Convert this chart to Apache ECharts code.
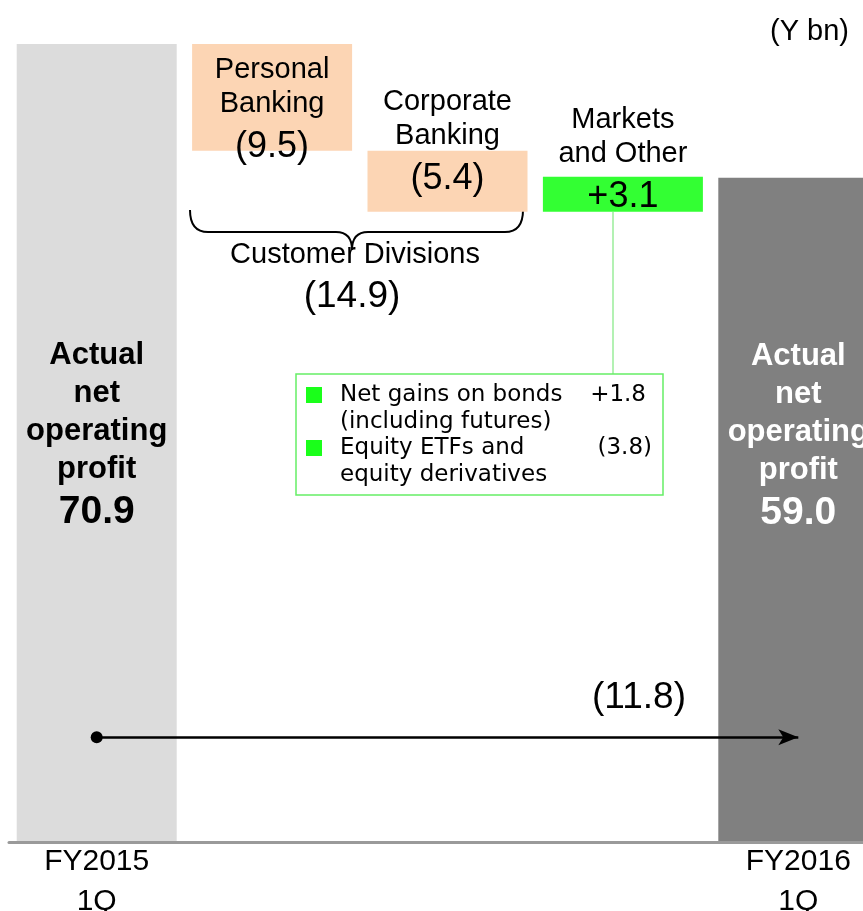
<!DOCTYPE html>
<html>
<head>
<meta charset="utf-8">
<title>Actual net operating profit FY2015 1Q to FY2016 1Q</title>
<script src="https://cdn.jsdelivr.net/npm/echarts@6/dist/echarts.min.js"></script>
<style>
  html, body { margin: 0; padding: 0; background: #fff; }
  #chart { width: 863px; height: 911px; }
</style>
</head>
<body>
<div id="chart"></div>
<script>
// chart data (Y bn)
const categories = ['FY2015\n1Q', 'Personal Banking', 'Corporate Banking', 'Markets and Other', 'FY2016\n1Q'];
const barKinds = ['total', 'change', 'change', 'change', 'total'];
const barValues = [70.9, -9.5, -5.4, 3.1, 59.0];
const valueTexts = ['70.9', '(9.5)', '(5.4)', '+3.1', '59.0'];
const barTitles = ['Actual\nnet\noperating\nprofit', 'Personal\nBanking', 'Corporate\nBanking', 'Markets\nand Other', 'Actual\nnet\noperating\nprofit'];
const customerDivisionsName = 'Customer Divisions';
const customerDivisionsTotal = '(14.9)';
const marketsBreakdownNames = ['Net gains on bonds\n(including futures)', 'Equity ETFs and\nequity derivatives'];
const marketsBreakdownValues = ['+1.8', '(3.8)'];
const overallChangeText = '(11.8)';
const overallArrowLevel = 9.3;
const unitText = '(Y bn)';

// styles
const FONT_NAME = 'Liberation Sans';
const FONT = '"Liberation Sans", Arial, sans-serif';
const BOX_FONT = '"DejaVu Sans", sans-serif';
const labelTop = [293, 9, -66, -74, 160]; // label offset from bar top, px

const barColor = (i) => {
  if (i === 0) return '#dcdcdc';
  if (i === barValues.length - 1) return '#808080';
  return barValues[i] < 0 ? '#fcd5b4' : '#33ff33';
};

// waterfall: invisible base + visible step
let running = 0;
const baseData = [];
const stepData = [];
barValues.forEach((v, i) => {
  if (barKinds[i] === 'total') {
    baseData.push(0);
    stepData.push(v);
    running = v;
  } else if (v < 0) {
    running += v;
    baseData.push(+running.toFixed(1));
    stepData.push(-v);
  } else {
    baseData.push(+running.toFixed(1));
    stepData.push(v);
    running += v;
  }
});

const totalRich = (color) => ({
  n: { fontFamily: FONT_NAME, fontSize: 31, fontWeight: 'bold', lineHeight: 38, color },
  v: { fontFamily: FONT_NAME, fontSize: 39, fontWeight: 'bold', lineHeight: 46, color }
});
const changeRich = {
  n: { fontFamily: FONT_NAME, fontSize: 29, lineHeight: 34, color: '#000' },
  v: { fontFamily: FONT_NAME, fontSize: 36, lineHeight: 52, color: '#000' }
};

const labelText = (i) =>
  barTitles[i].split('\n').map(s => `{n|${s}}`).join('\n') + `\n{v|${valueTexts[i]}}`;

// brace pieces
const braceStyle = { fill: 'none', stroke: '#000', lineWidth: 2 };
const brace = [
  { type: 'bezierCurve', shape: { x1: 190, y1: 210, cpx1: 190, cpy1: 232, x2: 208, y2: 232 }, style: braceStyle },
  { type: 'line', shape: { x1: 208, y1: 232, x2: 336, y2: 232 }, style: braceStyle },
  { type: 'bezierCurve', shape: { x1: 336, y1: 232, cpx1: 352, cpy1: 232, x2: 352, y2: 250 }, style: braceStyle },
  { type: 'bezierCurve', shape: { x1: 352, y1: 250, cpx1: 352, cpy1: 232, x2: 368, y2: 232 }, style: braceStyle },
  { type: 'line', shape: { x1: 368, y1: 232, x2: 505, y2: 232 }, style: braceStyle },
  { type: 'bezierCurve', shape: { x1: 505, y1: 232, cpx1: 523, cpy1: 232, x2: 523, y2: 210 }, style: braceStyle }
];

const chart = echarts.init(document.getElementById('chart'));

const option = {
  animation: false,
  grid: { left: 9, top: 0, width: 877, height: 842, containLabel: false, outerBoundsMode: 'none' },
  xAxis: {
    type: 'category',
    data: categories,
    z: 10,
    axisTick: { show: false },
    axisLine: { lineStyle: { color: '#9a9a9a', width: 3 } },
    axisLabel: {
      interval: (i) => barKinds[i] === 'total',
      margin: 0,
      color: '#000',
      fontFamily: FONT_NAME,
      fontSize: 30,
      lineHeight: 40
    }
  },
  yAxis: { type: 'value', min: 0, max: 74.8, show: false },
  series: [
    {
      name: 'base',
      type: 'bar',
      stack: 'wf',
      barWidth: 160,
      silent: true,
      itemStyle: { color: 'transparent' },
      data: baseData
    },
    {
      name: 'step',
      type: 'bar',
      stack: 'wf',
      barWidth: 160,
      silent: true,
      data: stepData.map((v, i) => ({
        value: v,
        itemStyle: { color: barColor(i) },
        label: {
          show: true,
          position: ['50%', labelTop[i]],
          align: 'center',
          verticalAlign: 'top',
          fontFamily: FONT_NAME,
          textBorderWidth: 0,
          formatter: labelText(i),
          rich: barKinds[i] === 'total' ? totalRich(i === 0 ? '#000' : '#fff') : changeRich
        }
      })),
      markLine: {
        silent: true,
        animation: false,
        symbol: ['circle', 'arrow'],
        symbolSize: [12, 20],
        label: { show: false },
        lineStyle: { color: '#000', width: 2.5, type: 'solid' },
        data: [[
          { coord: [categories[0], overallArrowLevel] },
          { coord: [categories[categories.length - 1], overallArrowLevel] }
        ]]
      }
    }
  ],
  graphic: [
    { type: 'text', x: 849, y: 32, style: { text: unitText, font: `29px ${FONT}`, fill: '#000', textAlign: 'right', textVerticalAlign: 'middle' } },
    ...brace,
    { type: 'text', x: 355, y: 255, style: { text: customerDivisionsName, font: `29px ${FONT}`, fill: '#000', textAlign: 'center', textVerticalAlign: 'middle' } },
    { type: 'text', x: 352, y: 297, style: { text: customerDivisionsTotal, font: `37px ${FONT}`, fill: '#000', textAlign: 'center', textVerticalAlign: 'middle' } },
    // markets breakdown box
    { type: 'line', shape: { x1: 613, y1: 212, x2: 613, y2: 374 }, style: { stroke: '#80e880', lineWidth: 1.2 } },
    { type: 'rect', shape: { x: 296, y: 374, width: 367, height: 121 }, style: { fill: '#fff', stroke: '#66ee66', lineWidth: 1.5 } },
    { type: 'rect', shape: { x: 306, y: 387, width: 16, height: 16 }, style: { fill: '#1aff1a' } },
    { type: 'rect', shape: { x: 306, y: 440, width: 16, height: 16 }, style: { fill: '#1aff1a' } },
    { type: 'text', x: 340, y: 382, style: { text: marketsBreakdownNames[0], font: `23px ${BOX_FONT}`, lineHeight: 26.7, fill: '#000', textAlign: 'left', textVerticalAlign: 'top' } },
    { type: 'text', x: 340, y: 435, style: { text: marketsBreakdownNames[1], font: `23px ${BOX_FONT}`, lineHeight: 26.7, fill: '#000', textAlign: 'left', textVerticalAlign: 'top' } },
    { type: 'text', x: 646, y: 395, style: { text: marketsBreakdownValues[0], font: `23px ${BOX_FONT}`, fill: '#000', textAlign: 'right', textVerticalAlign: 'middle' } },
    { type: 'text', x: 652, y: 448, style: { text: marketsBreakdownValues[1], font: `23px ${BOX_FONT}`, fill: '#000', textAlign: 'right', textVerticalAlign: 'middle' } },
    // overall change above the arrow
    { type: 'text', x: 639, y: 698, style: { text: overallChangeText, font: `37px ${FONT}`, fill: '#000', textAlign: 'center', textVerticalAlign: 'middle' } }
  ]
};

chart.setOption(option);
window.addEventListener('resize', () => chart.resize());
</script>
</body>
</html>
